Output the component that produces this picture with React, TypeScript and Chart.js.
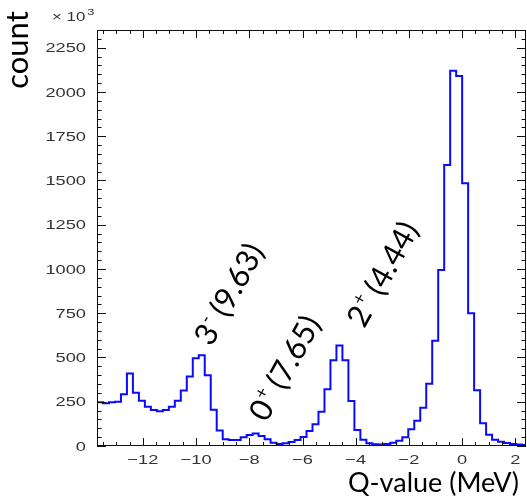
import React, { useEffect, useRef } from "react";
import { Chart, registerables } from "chart.js";

Chart.register(...registerables);

// ---- data ----
const BIN_START = -13.725; // MeV, low edge of the first bin
const BIN_WIDTH = 0.225; // MeV
const counts = [
  247, 241, 247, 250, 292, 410, 301, 256, 222, 203,
  196, 203, 222, 256, 313, 392, 495, 512, 399, 205,
  88, 38, 34, 34, 49, 62, 71, 56, 38, 19,
  12, 15, 22, 34, 51, 85, 123, 194, 320, 484,
  568, 484, 254, 90, 35, 15, 10, 9, 12, 19,
  30, 49, 94, 143, 216, 351, 594, 994, 1587, 2120,
  2090, 1484, 750, 315, 128, 64, 36, 24, 17, 12,
  8, 5,
];

const X_MIN = -13.725;
const X_MAX = 2.4;
const Y_MIN = 0;
const Y_MAX = 2350;
const X_MAJOR = 2;
const X_MINOR = 0.5;
const Y_MAJOR = 250;
const Y_MINOR = 50;

const xTitle = "Q-value (MeV)";
const yTitle = "count";
const yExponent = "3";

const stateSpin = ["3", "0", "2"];
const stateParity = ["-", "+", "+"];
const stateEnergy = [" (9.63)", " (7.65)", " (4.44)"];
const stateLabelX = [-8.78, -6.68, -3.0];
const stateLabelY = [859, 441, 972];

const LABEL_FONT = "Lato";
const TICK_FONT = "'Liberation Sans', Arial, sans-serif";
const TICK_STRETCH = 1.35;

function buildPoints() {
  const pts = counts.map((c, i) => ({ x: BIN_START + i * BIN_WIDTH, y: c }));
  pts.push({ x: BIN_START + counts.length * BIN_WIDTH, y: counts[counts.length - 1] });
  return pts;
}

function fmtX(v: number) {
  return v < 0 ? "\u2212" + Math.abs(v) : String(v);
}

function stretchedText(ctx: CanvasRenderingContext2D, text: string, x: number, y: number) {
  ctx.save();
  ctx.translate(x, y);
  ctx.scale(TICK_STRETCH, 1);
  ctx.fillText(text, 0, 0);
  ctx.restore();
}

const decorPlugin = {
  id: "decor",
  afterDraw(chart: any) {
    const { ctx, chartArea: a, scales } = chart;
    const xs = scales.x;
    const ys = scales.y;
    ctx.save();
    // frame
    ctx.strokeStyle = "#111";
    ctx.lineWidth = 1;
    ctx.strokeRect(a.left + 0.5, a.top + 0.5, a.right - a.left - 1, a.bottom - a.top - 1);

    ctx.beginPath();
    const xStart = Math.ceil(X_MIN / X_MINOR);
    const xEnd = Math.floor(X_MAX / X_MINOR);
    for (let i = xStart; i <= xEnd; i++) {
      const v = i * X_MINOR;
      const major = Math.abs(v / X_MAJOR - Math.round(v / X_MAJOR)) < 1e-6;
      const len = major ? 8 : 4;
      const px = Math.round(xs.getPixelForValue(v)) + 0.5;
      ctx.moveTo(px, a.bottom);
      ctx.lineTo(px, a.bottom - len);
      ctx.moveTo(px, a.top);
      ctx.lineTo(px, a.top + len);
    }
    const yStart = Math.ceil(Y_MIN / Y_MINOR);
    const yEnd = Math.floor(Y_MAX / Y_MINOR);
    for (let i = yStart; i <= yEnd; i++) {
      const v = i * Y_MINOR;
      const major = Math.abs(v / Y_MAJOR - Math.round(v / Y_MAJOR)) < 1e-6;
      const len = major ? 9 : 4.5;
      const py = Math.round(ys.getPixelForValue(v)) + 0.5;
      ctx.moveTo(a.left, py);
      ctx.lineTo(a.left + len, py);
      ctx.moveTo(a.right, py);
      ctx.lineTo(a.right - len, py);
    }
    ctx.stroke();

    // tick labels (from the library's own tick lists)
    ctx.fillStyle = "#333";
    ctx.font = `13.5px ${TICK_FONT}`;
    ctx.textBaseline = "alphabetic";
    ctx.textAlign = "center";
    for (const t of xs.ticks) {
      stretchedText(ctx, fmtX(t.value), xs.getPixelForValue(t.value), 464);
    }
    ctx.textAlign = "right";
    ctx.textBaseline = "middle";
    for (const t of ys.ticks) {
      stretchedText(ctx, String(t.value), a.left - 11, ys.getPixelForValue(t.value) + 1);
    }

    // exponent label
    ctx.textAlign = "left";
    ctx.textBaseline = "alphabetic";
    ctx.font = `12.5px ${TICK_FONT}`;
    stretchedText(ctx, "\u00d7 10", 52, 21);
    const w10 = ctx.measureText("\u00d7 10").width * TICK_STRETCH;
    ctx.font = `9.5px ${TICK_FONT}`;
    stretchedText(ctx, yExponent, 52 + w10 + 2, 15);

    // axis titles
    ctx.fillStyle = "#000";
    ctx.textBaseline = "alphabetic";
    ctx.font = `27px ${LABEL_FONT}`;
    ctx.textAlign = "right";
    ctx.fillText(xTitle, 519, 492);

    ctx.save();
    ctx.translate(28, 50);
    ctx.rotate(-Math.PI / 2);
    ctx.font = `31px ${LABEL_FONT}`;
    ctx.textAlign = "center";
    ctx.fillText(yTitle, 0, 0);
    ctx.restore();

    // state labels
    ctx.fillStyle = "#000";
    for (let i = 0; i < stateSpin.length; i++) {
      const px = xs.getPixelForValue(stateLabelX[i]);
      const py = ys.getPixelForValue(stateLabelY[i]);
      ctx.save();
      ctx.translate(px, py);
      ctx.rotate((-61 * Math.PI) / 180);
      ctx.textAlign = "left";
      const mainFont = `31px ${LABEL_FONT}`;
      const supFont = `18px ${LABEL_FONT}`;
      ctx.font = mainFont;
      const w1 = ctx.measureText(stateSpin[i]).width;
      const w3 = ctx.measureText(stateEnergy[i]).width;
      ctx.font = supFont;
      const w2 = ctx.measureText(stateParity[i]).width;
      const total = w1 + w2 + w3;
      let x = -total / 2;
      const base = 11;
      ctx.font = mainFont;
      ctx.fillText(stateSpin[i], x, base);
      x += w1;
      ctx.font = supFont;
      ctx.fillText(stateParity[i], x + 1, base - 13);
      x += w2;
      ctx.font = mainFont;
      ctx.fillText(stateEnergy[i], x, base);
      ctx.restore();
    }
    ctx.restore();
  },
};

export default function App() {
  const canvasRef = useRef<HTMLCanvasElement | null>(null);

  useEffect(() => {
    document.body.style.margin = "0";
    const canvas = canvasRef.current;
    if (!canvas) return;
    const chart = new Chart(canvas, {
      type: "line",
      data: {
        datasets: [
          {
            data: buildPoints(),
            stepped: true,
            borderColor: "#0a0aff",
            borderWidth: 2,
            pointRadius: 0,
            fill: false,
          },
        ],
      },
      options: {
        animation: false,
        responsive: false,
        devicePixelRatio: 1,
        layout: { padding: { top: 30, right: 1, left: 0, bottom: 0 } },
        plugins: { legend: { display: false }, tooltip: { enabled: false } },
        scales: {
          x: {
            type: "linear",
            min: X_MIN,
            max: X_MAX,
            grid: { display: false, drawTicks: false },
            border: { display: false },
            ticks: {
              display: false,
              stepSize: X_MAJOR,
              includeBounds: false,
              autoSkip: false,
            },
            afterFit: (s: any) => {
              s.height = 53;
            },
          },
          y: {
            type: "linear",
            min: Y_MIN,
            max: Y_MAX,
            grid: { display: false, drawTicks: false },
            border: { display: false },
            ticks: {
              display: false,
              stepSize: Y_MAJOR,
              includeBounds: false,
              autoSkip: false,
            },
            afterFit: (s: any) => {
              s.width = 97;
            },
          },
        },
      },
      plugins: [decorPlugin],
    } as any);
    return () => chart.destroy();
  }, []);

  return (
    <div style={{ width: 527, height: 499 }}>
      <canvas ref={canvasRef} width={527} height={499} style={{ display: "block" }} />
    </div>
  );
}
